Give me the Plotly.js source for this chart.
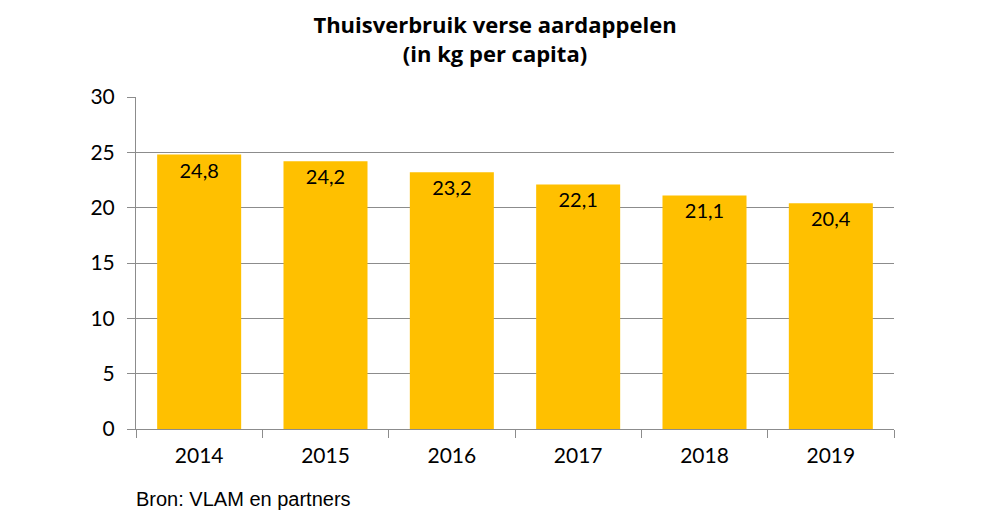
<!DOCTYPE html>
<html><head><meta charset="utf-8">
<script src="https://cdn.plot.ly/plotly-3.0.1.min.js"></script>
<style>html,body{margin:0;padding:0;background:#fff}#chart{width:1000px;height:520px}</style>
</head><body><div id="chart"></div>
<script>
const years = ["2014","2015","2016","2017","2018","2019"];
const values = [24.8, 24.2, 23.2, 22.1, 21.1, 20.4];
const labels = ["24,8","24,2","23,2","22,1","21,1","20,4"];
const yTicks = [0,5,10,15,20,25,30];

const trace = {
  type: "bar", x: years, y: values, text: labels,
  textposition: "inside", insidetextanchor: "end", constraintext: "none",
  textfont: {family: "Lato, 'Open Sans', sans-serif", size: 20, color: "#000"},
  marker: {color: "#FFC000", line: {width: 0}},
  hoverinfo: "skip", cliponaxis: false
};
const layout = {
  width: 1000, height: 520,
  margin: {l: 136, r: 106, t: 97, b: 91},
  paper_bgcolor: "#fff", plot_bgcolor: "#fff",
  bargap: 0.335,
  showlegend: false,
  title: {text: "<b>Thuisverbruik verse aardappelen<br>(in kg per capita)</b>",
    font: {family: "'Open Sans', Lato, sans-serif", size: 22, color: "#000"},
    xref: "container", x: 0.495, xanchor: "center", yref: "container", y: 0.936, yanchor: "middle"},
  xaxis: {type: "category", tickson: "boundaries", ticks: "outside", ticklen: 8,
    tickcolor: "#8c8c8c", showline: true, linecolor: "#8c8c8c", linewidth: 1, ticklabelstandoff: 8,
    showgrid: false, tickfont: {family: "Lato, 'Open Sans', sans-serif", size: 21, color: "#000"}},
  yaxis: {range: [0, 30], tickvals: yTicks, ticks: "outside", ticklen: 8, tickcolor: "#8c8c8c",
    showline: true, linecolor: "#8c8c8c", linewidth: 1, showgrid: true, gridcolor: "#8c8c8c", gridwidth: 1,
    zeroline: false, ticklabelstandoff: 8, tickfont: {family: "Lato, 'Open Sans', sans-serif", size: 21, color: "#000"}},
  annotations: [{text: "Bron: VLAM en partners", xref: "paper", yref: "paper", x: -0.002, y: -0.21,
    xanchor: "left", yanchor: "middle", showarrow: false,
    font: {family: "'Liberation Sans', Arial, sans-serif", size: 20, color: "#000"}}]
};
Plotly.newPlot("chart", [trace], layout, {staticPlot: true});
</script></body></html>
